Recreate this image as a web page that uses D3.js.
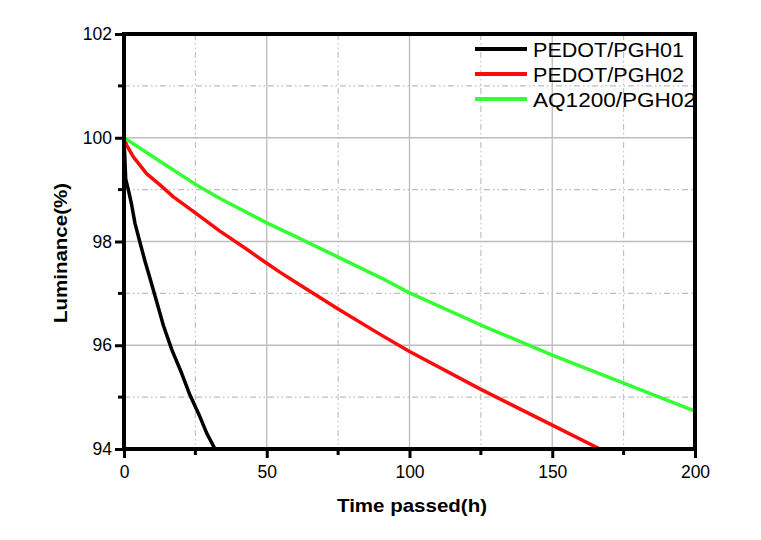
<!DOCTYPE html>
<html><head><meta charset="utf-8">
<script src="https://cdn.jsdelivr.net/npm/d3@7"></script>
<style>body{margin:0;background:#fff}svg{display:block}</style>
</head><body><svg id="c" width="761" height="540"></svg>
<script>
const seriesNames = ["PEDOT/PGH01", "PEDOT/PGH02", "AQ1200/PGH02"];
const seriesColors = ["#000000", "#ff0a0a", "#33ff33"];
const pedotPgh01 = [[0,100],[0.3,99.6],[0.6,99.2],[1.6,98.98],[2.7,98.7],[3.85,98.35],[5.6,97.98],[7.36,97.62],[9.1,97.29],[11.5,96.83],[13.8,96.38],[16.7,95.92],[20.2,95.46],[23.1,95.04],[26.6,94.62],[29,94.3],[31.9,94.0]];
const pedotPgh02 = [[0,100],[1,99.85],[3.27,99.63],[7.9,99.31],[12.6,99.09],[17.3,98.86],[24.5,98.57],[33.6,98.2],[43,97.85],[50,97.58],[54.6,97.41],[60,97.22],[75,96.7],[90,96.2],[100,95.88],[125,95.15],[150,94.46],[166.7,94.0]];
const aq1200Pgh02 = [[0,100],[10.3,99.63],[24.5,99.12],[33.6,98.83],[50,98.36],[54.6,98.24],[60,98.1],[75,97.7],[90,97.3],[100,97.01],[125,96.39],[150,95.81],[175,95.27],[200,94.73]];
const xTicks = [0, 50, 100, 150, 200];
const yTicks = [94, 96, 98, 100, 102];
const xMinor = [25, 75, 125, 175];
const yMinor = [95, 97, 99, 101];

const svg = d3.select("#c");
const L = 124, R = 695, T = 34, B = 449;
const x = d3.scaleLinear().domain([0, 200]).range([L, R]);
const y = d3.scaleLinear().domain([94, 102]).range([B, T]);
const grid = "#bdbdbd";

// grid
const g = svg.append("g");
g.selectAll(".vx").data(xTicks.slice(1, -1)).join("line")
  .attr("x1", d => x(d)).attr("x2", d => x(d)).attr("y1", T).attr("y2", B)
  .attr("stroke", grid).attr("stroke-width", 1.3);
g.selectAll(".hy").data(yTicks.slice(1, -1)).join("line")
  .attr("y1", d => y(d)).attr("y2", d => y(d)).attr("x1", L).attr("x2", R)
  .attr("stroke", grid).attr("stroke-width", 1.3);
g.selectAll(".vm").data(xMinor).join("line")
  .attr("x1", d => x(d)).attr("x2", d => x(d)).attr("y1", T).attr("y2", B)
  .attr("stroke", grid).attr("stroke-width", 1.1).attr("stroke-dasharray", "6 3 1.5 3 1.5 3");
g.selectAll(".hm").data(yMinor).join("line")
  .attr("y1", d => y(d)).attr("y2", d => y(d)).attr("x1", L).attr("x2", R)
  .attr("stroke", grid).attr("stroke-width", 1.1).attr("stroke-dasharray", "6 3 1.5 3 1.5 3");

// data lines
svg.append("clipPath").attr("id", "clip").append("rect")
  .attr("x", L).attr("y", T).attr("width", R - L).attr("height", B - T);
const line = d3.line().x(d => x(d[0])).y(d => y(d[1]));
const allSeries = [pedotPgh01, pedotPgh02, aq1200Pgh02];
svg.append("g").attr("clip-path", "url(#clip)")
  .selectAll("path").data(allSeries).join("path")
  .attr("d", line).attr("fill", "none")
  .attr("stroke", (d, i) => seriesColors[i]).attr("stroke-width", 3.5)
  .attr("stroke-linejoin", "round");

// axes with ticks
const xAxis = d3.axisBottom(x).tickValues(xTicks).tickSize(9).tickPadding(5).tickFormat(d3.format("d"));
const xAx = svg.append("g").attr("transform", `translate(0,${B})`).call(xAxis);
const yAxis = d3.axisLeft(y).tickValues(yTicks).tickSize(9).tickPadding(3).tickFormat(d3.format("d"));
const yAx = svg.append("g").attr("transform", `translate(${L},0)`).call(yAxis);
[xAx, yAx].forEach(a => {
  a.select(".domain").remove();
  a.attr("font-size", null).attr("font-family", null);
  a.selectAll(".tick line").attr("stroke", "#000").attr("stroke-width", 3);
  a.selectAll(".tick text").attr("font-family", "Liberation Sans, Arial, sans-serif")
    .style("font-size", "17.5px").attr("fill", "#000");
});
xAx.selectAll(".tick text").attr("dy", "0.85em");
svg.append("g").selectAll("line").data(xMinor).join("line")
  .attr("x1", d => x(d)).attr("x2", d => x(d)).attr("y1", B).attr("y2", B + 6)
  .attr("stroke", "#000").attr("stroke-width", 3);
svg.append("g").selectAll("line").data(yMinor).join("line")
  .attr("y1", d => y(d)).attr("y2", d => y(d)).attr("x1", L).attr("x2", L - 6)
  .attr("stroke", "#000").attr("stroke-width", 3);

// frame
svg.append("rect").attr("x", L).attr("y", T).attr("width", R - L).attr("height", B - T)
  .attr("fill", "none").attr("stroke", "#000").attr("stroke-width", 4);

// legend
const leg = svg.append("g");
const legY = [49, 74, 99];
seriesNames.forEach((n, i) => {
  leg.append("line").attr("x1", 475).attr("x2", 527).attr("y1", legY[i]).attr("y2", legY[i])
    .attr("stroke", seriesColors[i]).attr("stroke-width", 4);
  leg.append("text").attr("x", 533).attr("y", legY[i] + 8)
    .attr("font-family", "Liberation Sans, Arial, sans-serif").attr("font-size", 20)
    .attr("textLength", i === 2 ? 163 : 151).attr("lengthAdjust", "spacingAndGlyphs")
    .text(n);
});

// axis titles
svg.append("text").attr("x", 412).attr("y", 512).attr("text-anchor", "middle")
  .attr("font-family", "Liberation Sans, Arial, sans-serif").attr("font-weight", "bold")
  .attr("font-size", 19).attr("textLength", 150).attr("lengthAdjust", "spacingAndGlyphs")
  .text("Time passed(h)");
svg.append("text").attr("transform", "translate(67,253) rotate(-90)").attr("text-anchor", "middle")
  .attr("font-family", "Liberation Sans, Arial, sans-serif").attr("font-weight", "bold")
  .attr("font-size", 19).attr("textLength", 140).attr("lengthAdjust", "spacingAndGlyphs")
  .text("Luminance(%)");
</script></body></html>
